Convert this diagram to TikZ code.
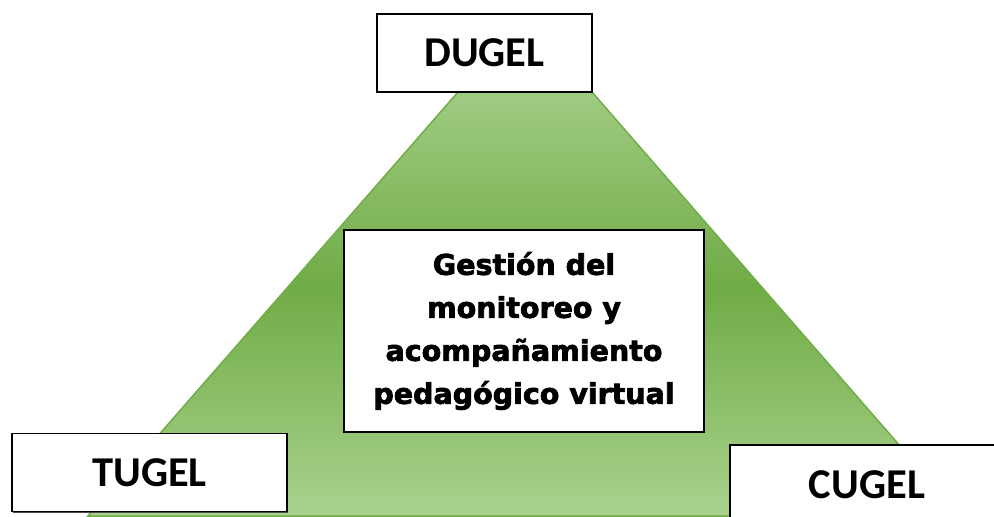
\documentclass[tikz,border=0pt]{standalone}
\usepackage{fontspec}
\setmainfont{Carlito}
\newfontfamily\heavyfont{DejaVu Sans}[FakeBold=2.5]
\usepackage{tikz}
\usetikzlibrary{shadows}
\definecolor{verdeclaro}{RGB}{160,203,130}
\definecolor{verdemedio}{RGB}{112,172,70}
\definecolor{verdebajo}{RGB}{170,210,142}
\definecolor{verdeborde}{RGB}{112,173,71}
\pgfdeclareverticalshading{trapecio}{100bp}{color(0bp)=(verdebajo); color(25bp)=(verdebajo); color(52bp)=(verdemedio); color(75bp)=(verdeclaro); color(100bp)=(verdeclaro)}

\tikzset{
  ugel/.style={draw=black, line width=1.6pt, fill=white, inner sep=0pt,
    general shadow={fill=black!70, shadow xshift=1.3pt, shadow yshift=-1.3pt},
    minimum width=#1, minimum height=78pt, font=\fontsize{42.5}{42.5}\selectfont\bfseries},
  centro/.style={draw=black, line width=1.6pt, fill=white, inner sep=0pt,
    general shadow={fill=black!70, shadow xshift=1.3pt, shadow yshift=-1.3pt},
    minimum width=360pt, minimum height=202pt, align=center,
    font=\heavyfont\bfseries\fontsize{28.5}{43}\selectfont}
}

\begin{document}
\begin{tikzpicture}[x=1pt,y=-1pt]
	\useasboundingbox (0,0) rectangle (994,517);
	\clip (0,0) rectangle (994,517);
	\shade[shading=trapecio]
		(458,92) -- (592,92) -- (961,516) -- (88,516) -- cycle;
	\draw[line width=1.5pt, verdeborde]
		(458,92) -- (592,92) -- (961,516) -- (88,516) -- cycle;
	\node[ugel=215pt] (dugel) at (484.5,53) {DUGEL};
	\node[ugel=275pt] (tugel) at (149.5,472.5) {TUGEL};
	\node[ugel=274pt, minimum height=80pt] (cugel) at (867,485) {CUGEL};
	\node[centro] (gestion) at (524,331) {Gestión del\\monitoreo y\\acompañamiento\\pedagógico virtual};
\end{tikzpicture}
\end{document}
